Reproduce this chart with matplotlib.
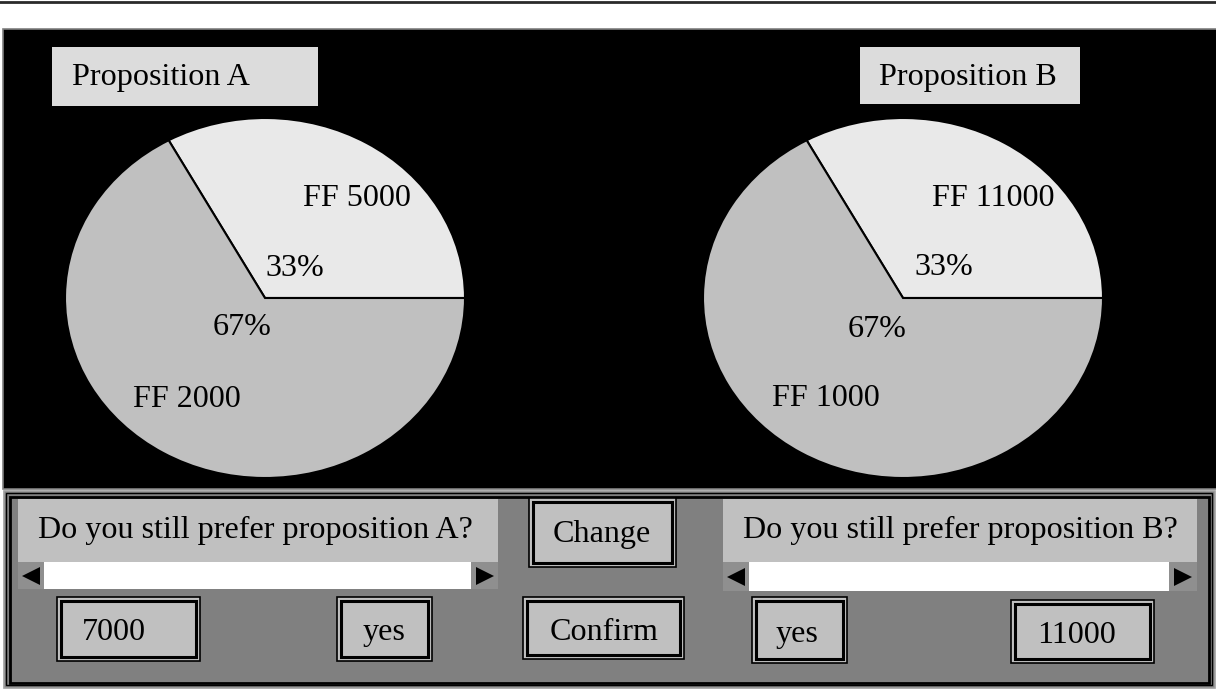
import matplotlib.pyplot as plt
from matplotlib.patches import Rectangle

plt.rcParams['font.family'] = ['Liberation Serif', 'DejaVu Serif']

# data
probs = [33, 67]
outcomes_a = [5000, 2000]
outcomes_b = [11000, 1000]
titles = ['Proposition A', 'Proposition B']
questions = ['Do you still prefer proposition A?', 'Do you still prefer proposition B?']
answer_a = ['7000', 'yes']
answer_b = ['yes', '11000']
buttons_mid = ['Change', 'Confirm']

W, H = 1216, 689
FS = 23.1
LIGHT, MID, BOX, PANEL = '#e9e9e9', '#c0c0c0', '#dcdcdc', '#808080'

fig = plt.figure(figsize=(W / 100, H / 100), dpi=100)
bg = fig.add_axes([0, 0, 1, 1])
bg.set_xlim(0, W)
bg.set_ylim(H, 0)
bg.axis('off')


def rect(x0, y0, x1, y1, **kw):
    bg.add_patch(Rectangle((x0, y0), x1 - x0, y1 - y0, **kw))


def label(x, y, s, ha='left'):
    fig.text(x, y, s, transform=bg.transData, ha=ha, va='baseline', fontsize=FS, color='k')


def button(x0, y0, x1, y1, s, tx, ty, ha='center'):
    rect(x0, y0, x1, y1, facecolor=MID, edgecolor='k', lw=1.2)
    rect(x0 + 4, y0 + 4, x1 - 4, y1 - 4, facecolor=MID, edgecolor='k', lw=2.2)
    label(tx, ty, s, ha)


# top rule and black area
bg.plot([0, W], [2, 2], color='#2a2a2a', lw=2)
rect(3, 29, W + 5, 489, facecolor='k', edgecolor='#808080', lw=1.2)

# title boxes
rect(52, 47, 318, 106, facecolor=BOX, lw=0)
label(72, 85, titles[0])
rect(860, 47, 1080, 104, facecolor=BOX, lw=0)
label(879, 85, titles[1])

# pies
for cx, outs, pos in [(265, outcomes_a, [(303, 206), (265, 276), (213, 335), (133, 407)]),
                      (903, outcomes_b, [(932, 206), (914, 275), (848, 337), (772, 406)])]:
    ax = fig.add_axes([(cx - 200) / W, 1 - 478 / H, 400 / W, 360 / H])
    ax.pie(probs, colors=[LIGHT, MID], startangle=0,
           wedgeprops=dict(edgecolor='k', linewidth=1.5))
    ax.set_aspect('auto')
    ax.set_xlim(-1, 1)
    ax.set_ylim(-1, 1)
    ax.axis('off')
    label(*pos[0], f'FF {outs[0]}')
    label(*pos[1], f'{probs[0]}%')
    label(*pos[2], f'{probs[1]}%')
    label(*pos[3], f'FF {outs[1]}')

# bottom panel
rect(3.5, 490.5, 1214.5, 687.5, facecolor=PANEL, edgecolor='#a0a0a0', lw=1.2)
rect(6, 493, 1212, 685, fill=False, edgecolor='k', lw=1.0)
rect(9.5, 496.5, 1208.5, 682.5, fill=False, edgecolor='k', lw=2.0)

# questions with scroll bars
for (x0, x1, la, ra, ybot), q, tx in [((18, 498, 44, 471, 589), questions[0], 38),
                                      ((723, 1197, 749, 1169, 591), questions[1], 743)]:
    rect(x0, 499, x1, 562, facecolor=MID, lw=0)
    label(tx, 538, q)
    rect(x0, 562, x1, ybot, facecolor='#8f8f8f', lw=0)
    rect(la, 562, ra, ybot, facecolor='white', lw=0)
    ym = (562 + ybot) / 2
    bg.plot([(x0 + la) / 2], [ym], marker='<', color='k', ms=13, mew=0)
    bg.plot([(ra + x1) / 2], [ym], marker='>', color='k', ms=13, mew=0)

# buttons
button(57, 597, 200, 661, answer_a[0], 82, 640, ha='left')
button(337, 597, 432, 661, answer_a[1], 384, 640)
button(529, 498, 676, 567, buttons_mid[0], 602, 542)
button(523, 597, 684, 659, buttons_mid[1], 604, 640)
button(752, 597, 847, 663, answer_b[0], 797, 642)
button(1011, 600, 1154, 663, answer_b[1], 1076, 643)

fig.savefig('out.png', dpi=100, facecolor='white')
